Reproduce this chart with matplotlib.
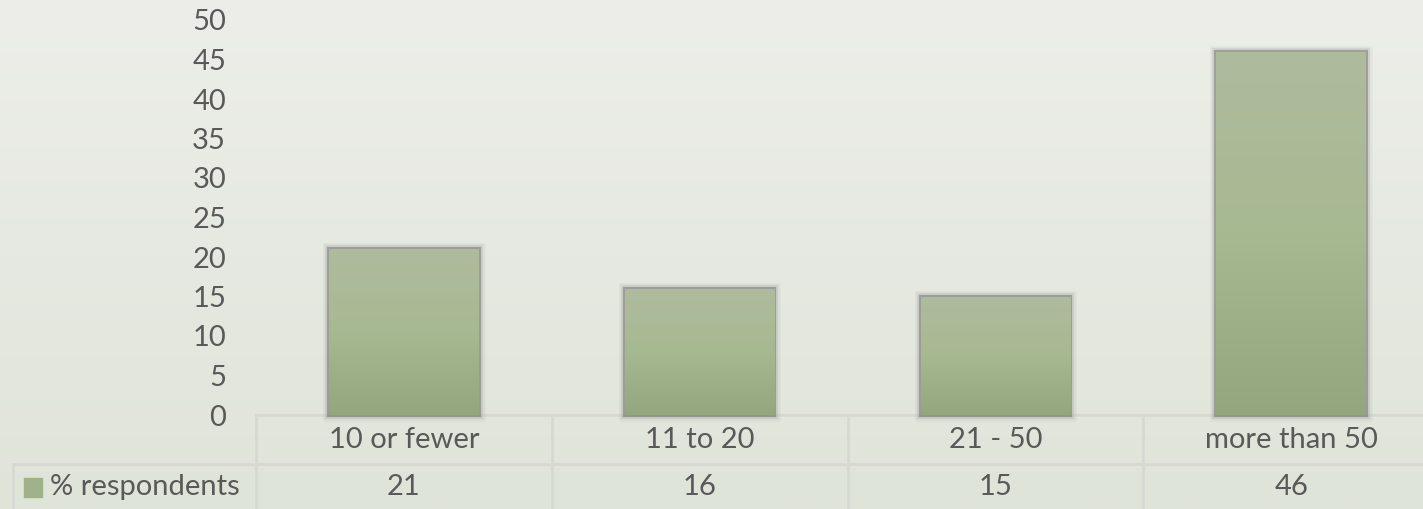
import numpy as np
import matplotlib
matplotlib.use('Agg')
import matplotlib.pyplot as plt
import matplotlib.patheffects as pe
from matplotlib.colors import LinearSegmentedColormap

categories = ['10 or fewer', '11 to 20', '21 - 50', 'more than 50']
values = [21, 16, 15, 46]
series_name = '% respondents'
yticks = [0, 5, 10, 15, 20, 25, 30, 35, 40, 45, 50]

TXT = '#595959'
GRID = '#d6d9d2'
plt.rcParams['font.family'] = ['Lato', 'DejaVu Sans']

fig = plt.figure(figsize=(14.23, 5.09), dpi=100)

# background gradient
bg = fig.add_axes([0, 0, 1, 1], zorder=-10)
bg_cmap = LinearSegmentedColormap.from_list('bg', ['#dfe4d9', '#e6e9e1', '#edeee9'])
bg.imshow(np.linspace(0, 1, 256).reshape(-1, 1), cmap=bg_cmap, aspect='auto',
          extent=[0, 1, 0, 1], origin='lower')
bg.axis('off')

W, H = 1423, 509
x0, x1, y0, y1 = 256, 1439, 415, 20
ax = fig.add_axes([x0 / W, (H - y0) / H, (x1 - x0) / W, (y0 - y1) / H])
ax.set_facecolor('none')

bar_cmap = LinearSegmentedColormap.from_list('bar', ['#93a67d', '#a7b991', '#afbb9d'])
xs = np.arange(len(categories))
bars = ax.bar(xs, values, width=0.505, color='#a3b48c', clip_on=False, zorder=3,
              path_effects=[pe.withStroke(linewidth=9, foreground='#555555', alpha=0.05),
                            pe.withStroke(linewidth=6, foreground='#555555', alpha=0.12),
                            pe.withStroke(linewidth=3, foreground='#555555', alpha=0.4),
                            pe.Normal()])
for b in bars:
    im = ax.imshow(np.linspace(0, 1, 256).reshape(-1, 1), cmap=bar_cmap, origin='lower',
                   aspect='auto', zorder=4,
                   extent=[b.get_x(), b.get_x() + b.get_width(), 0, b.get_height()])
    im.set_clip_path(b)

ax.set_xlim(-0.5, len(categories) - 0.5)
ax.set_ylim(0, 50)
ax.set_yticks(yticks)
ax.set_xticks([])
ax.tick_params(axis='y', length=0, pad=21.5, labelsize=21, labelcolor=TXT)
for s in ax.spines.values():
    s.set_visible(False)

# data table below the axis
tr = ax.transAxes
n = len(categories)
row1 = (415 - 440) / 395
row_div = (415 - 464) / 395
row2 = (415 - 487) / 395
bottom = (415 - 520) / 395
left = (13 - 256) / 1183
lw = 2
ax.plot([0, 1], [0, 0], color=GRID, lw=lw, transform=tr, clip_on=False, zorder=2)
ax.plot([left, 1], [row_div, row_div], color=GRID, lw=lw, transform=tr, clip_on=False)
ax.plot([left, left], [row_div, bottom], color=GRID, lw=lw, transform=tr, clip_on=False)
for i in range(n):
    ax.plot([i / n, i / n], [0, bottom], color=GRID, lw=lw, transform=tr, clip_on=False)
    ax.text((i + 0.5) / n, row1, categories[i], transform=tr, ha='center', va='center',
            fontsize=21, color=TXT)
    ax.text((i + 0.5) / n, row2, str(values[i]), transform=tr, ha='center', va='center',
            fontsize=21, color=TXT)

# legend key and series name
key_x = (24 - 256) / 1183
ax.add_patch(plt.Rectangle((key_x, (415 - 497) / 395), 18 / 1183, 19 / 395,
                           transform=tr, clip_on=False, color='#a0b28a'))
ax.text((50 - 256) / 1183, row2, series_name, transform=tr, ha='left', va='center',
        fontsize=21, color=TXT)

fig.savefig('out.png', dpi=100)
